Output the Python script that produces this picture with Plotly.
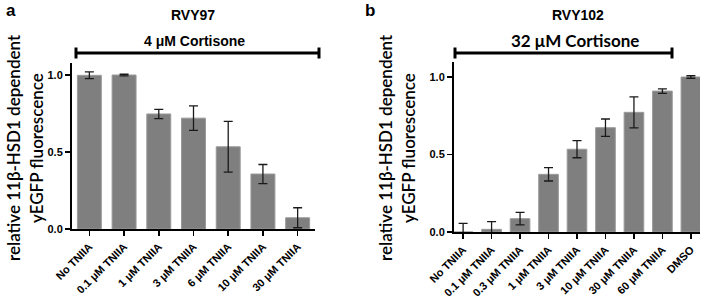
import plotly.graph_objects as go

# ---- data ----
cats_a = ["No TNIIA", "0.1 μM TNIIA", "1 μM TNIIA", "3 μM TNIIA", "6 μM TNIIA", "10 μM TNIIA", "30 μM TNIIA"]
vals_a = [0.998, 1.0, 0.747, 0.72, 0.534, 0.357, 0.073]
err_a = [0.022, 0.005, 0.03, 0.08, 0.165, 0.062, 0.065]

cats_b = ["No TNIIA", "0.1 μM TNIIA", "0.3 μM TNIIA", "1 μM TNIIA", "3 μM TNIIA", "10 μM TNIIA", "30 μM TNIIA", "60 μM TNIIA", "DMSO"]
vals_b = [0.0, 0.017, 0.086, 0.372, 0.534, 0.673, 0.772, 0.909, 1.0]
err_b = [0.056, 0.05, 0.04, 0.043, 0.055, 0.056, 0.1, 0.015, 0.008]

y_ticks = [0.0, 0.5, 1.0]
y_tick_text = ["0.0", "0.5", "1.0"]
y_title_lines = ["relative 11β-HSD1 dependent", "yEGFP fluorescence"]
titles = ["RVY97", "RVY102"]
brackets = ["4 μM Cortisone", "32 μM Cortisone"]
panel_labels = ["a", "b"]

# the page's body margin is removed by a post script, so the figure fills the window
W, H = 709, 303


def px(x):
    return x / W


def py(y):
    return (H - y) / H


BAR = "#7f7f7f"
TICKFONT = dict(family="Liberation Sans, Arial", size=11, color="black")

fig = go.Figure()
for i, (cats, vals, errs) in enumerate([(cats_a, vals_a, err_a), (cats_b, vals_b, err_b)]):
    fig.add_trace(go.Bar(
        x=list(range(len(cats))), y=vals,
        xaxis="x" if i == 0 else "x2", yaxis="y" if i == 0 else "y2",
        width=0.69,
        marker=dict(color=BAR, line=dict(color="#9a9a9a", width=1)),
        error_y=dict(type="data", array=errs, visible=True, color="#1a1a1a", thickness=1.3, width=4.5),
        showlegend=False, hoverinfo="skip",
    ))


def xaxis(dom, cats, rng, anchor):
    return dict(domain=dom, range=rng, anchor=anchor, automargin=False, tickmode="array",
                tickvals=list(range(len(cats))),
                ticktext=[f"<b>{c}</b>" for c in cats], tickangle=-45,
                tickfont=dict(family="Liberation Sans, Arial", size=11, color="black"),
                showline=True, linecolor="black", linewidth=2, ticks="outside", ticklen=5,
                tickwidth=1.5, tickcolor="black", showgrid=False, zeroline=False, fixedrange=True)


def yaxis(dom, rng, anchor):
    return dict(domain=dom, range=rng, anchor=anchor, automargin=False, tickmode="array", tickvals=y_ticks,
                ticktext=[f"<b>{t}</b>" for t in y_tick_text], tickfont=TICKFONT,
                showline=True, linecolor="black", linewidth=2, ticks="outside", ticklen=5,
                tickwidth=1.5, tickcolor="black", showgrid=False, zeroline=False, fixedrange=True)


fig.update_layout(
    width=W, height=H, margin=dict(l=0, r=0, t=0, b=0, autoexpand=False),
    paper_bgcolor="white", plot_bgcolor="white",
    xaxis=xaxis([px(72), px(315)], cats_a, [-0.5, 6.5], "y"),
    yaxis=yaxis([py(229), py(62.7)], [0, 1.08], "x"),
    xaxis2=xaxis([px(454), px(700)], cats_b, [-0.32, 8.32], "y2"),
    yaxis2=yaxis([py(232), py(61.5)], [0, 1.1], "x2"),
)

# brackets and texts
bracket_fonts = [dict(family="Liberation Sans, Arial", size=14, color="black"),
                 dict(family="Lato", size=17, color="black", weight=700)]
for i, (p0, p1, tcx) in enumerate([(76, 319, 194), (455, 672, 575)]):
    yb = py(53)
    cap = 5.5 / H
    fig.add_shape(type="line", xref="paper", yref="paper", x0=px(p0), x1=px(p1), y0=yb, y1=yb,
                  line=dict(color="black", width=3))
    for xx in (p0, p1):
        fig.add_shape(type="line", xref="paper", yref="paper", x0=px(xx), x1=px(xx), y0=yb - cap, y1=yb + cap,
                      line=dict(color="black", width=3))
    fig.add_annotation(xref="paper", yref="paper", x=px(tcx), y=py(41), text=f"<b>{brackets[i]}</b>",
                       xanchor="center", yanchor="middle", showarrow=False, font=bracket_fonts[i])

for i, (cx, lx, t1, t2) in enumerate([(193, 11, 13, 36), (578, 370, 385, 408)]):
    fig.add_annotation(xref="paper", yref="paper", x=px(cx), y=py(15), text=f"<b>{titles[i]}</b>",
                       xanchor="center", yanchor="middle", showarrow=False,
                       font=dict(family="Liberation Sans, Arial", size=14, color="black"))
    fig.add_annotation(xref="paper", yref="paper", x=px(lx), y=py(11), text=f"<b>{panel_labels[i]}</b>",
                       xanchor="center", yanchor="middle", showarrow=False, borderpad=0,
                       font=dict(family="Liberation Sans, Arial", size=17, color="black"))
    for tx, line in zip((t1, t2), y_title_lines):
        fig.add_annotation(xref="paper", yref="paper", x=px(tx), y=py(148), text=line, textangle=-90,
                           xanchor="center", yanchor="middle", showarrow=False, borderpad=0,
                           font=dict(family="Lato", size=17, color="black", weight=600))

fig.write_html("out.html", config={"displayModeBar": False, "staticPlot": True},
               post_script="document.body.style.margin='0';")
